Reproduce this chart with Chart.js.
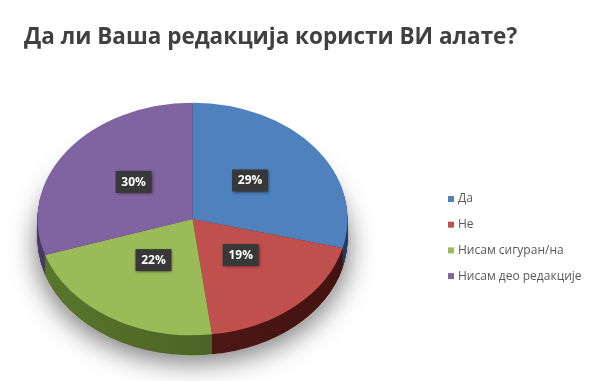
<!DOCTYPE html>
<html><head><meta charset="utf-8">
<script src="https://cdn.jsdelivr.net/npm/chart.js@4"></script>
<style>html,body{margin:0;padding:0;background:#fff;}#wrap{width:615px;height:381px;position:relative;}</style>
</head><body>
<div id="wrap"><canvas id="c" width="615" height="381"></canvas></div>
<script>
const titleText = 'Да ли Ваша редакција користи ВИ алате?';
const categories = ['Да', 'Не', 'Нисам сигуран/на', 'Нисам део редакције'];
const values = [29, 19, 22, 30];
const valueLabels = ['29%', '19%', '22%', '30%'];
const topColors = ['#4F81BD', '#C0504D', '#9BBB59', '#8064A2'];
const sideColors = ['#2f5380', '#5c1b19', '#5a762c', '#4a3862'];

const TILT = 0.75;
const DEPTH = 20;
const FONT = '"Open Sans", sans-serif';

function wedge(ctx, a, dy) {
  ctx.beginPath();
  ctx.moveTo(a.x, a.y + dy);
  ctx.arc(a.x, a.y + dy, a.outerRadius, a.startAngle, a.endAngle);
  ctx.closePath();
}

function shade(hex, f) {
  const n = parseInt(hex.slice(1), 16);
  const r = Math.round(((n >> 16) & 255) * f), g = Math.round(((n >> 8) & 255) * f), b = Math.round((n & 255) * f);
  return 'rgb(' + r + ',' + g + ',' + b + ')';
}

const pie3d = {
  id: 'pie3d',
  beforeDatasetsDraw(chart) {
    const ctx = chart.ctx;
    const arcs = chart.getDatasetMeta(0).data;
    const a0 = arcs[0];
    const cx = a0.x, cy = a0.y, R = a0.outerRadius;
    // soft shadow
    ctx.save();
    ctx.shadowColor = 'rgba(0,0,0,0.5)';
    ctx.shadowBlur = 26;
    ctx.shadowOffsetY = 8;
    ctx.fillStyle = '#b5b5b5';
    ctx.beginPath();
    ctx.ellipse(cx, cy + DEPTH, R + 2, R * TILT, 0, 0, Math.PI * 2);
    ctx.fill();
    ctx.restore();
    // side walls
    ctx.save();
    ctx.translate(0, cy);
    ctx.scale(1, TILT);
    ctx.translate(0, -cy);
    for (let d = DEPTH; d >= 1; d -= 0.5) {
      arcs.forEach((a, i) => {
        const g = ctx.createLinearGradient(cx - R, 0, cx + R, 0);
        g.addColorStop(0, sideColors[i]);
        g.addColorStop(1, shade(sideColors[i], 0.72));
        ctx.fillStyle = g;
        wedge(ctx, a, d / TILT);
        ctx.fill();
      });
    }
    ctx.restore();
    // squash the top surface drawn by Chart.js
    ctx.save();
    ctx.translate(0, cy);
    ctx.scale(1, TILT);
    ctx.translate(0, -cy);
  },
  afterDatasetsDraw(chart) {
    const ctx = chart.ctx;
    ctx.restore();
    const arcs = chart.getDatasetMeta(0).data;
    arcs.forEach((a, i) => {
      const mid = (a.startAngle + a.endAngle) / 2;
      const r = a.outerRadius * 0.47;
      const x = a.x + Math.cos(mid) * r;
      const y = a.y + Math.sin(mid) * r * TILT - 5;
      ctx.save();
      ctx.shadowColor = 'rgba(0,0,0,0.5)';
      ctx.shadowBlur = 3;
      ctx.shadowOffsetX = 1;
      ctx.shadowOffsetY = 1;
      ctx.fillStyle = '#383838';
      ctx.fillRect(x - 18, y - 11, 36, 22);
      ctx.restore();
      ctx.fillStyle = '#ffffff';
      ctx.font = 'bold 12px ' + FONT;
      ctx.textAlign = 'center';
      ctx.textBaseline = 'middle';
      ctx.fillText(valueLabels[i], x, y + 0.5);
    });
  },
  afterDraw(chart) {
    const ctx = chart.ctx;
    ctx.save();
    // title
    ctx.font = 'bold 22.5px ' + FONT;
    ctx.fillStyle = '#404040';
    ctx.textAlign = 'left';
    ctx.textBaseline = 'alphabetic';
    ctx.fillText(titleText, 24, 44);
    // legend
    ctx.font = '12px ' + FONT;
    ctx.textBaseline = 'middle';
    categories.forEach((c, i) => {
      const y = 199 + i * 25.7;
      ctx.fillStyle = topColors[i];
      ctx.fillRect(448, y - 3, 6, 6);
      ctx.fillStyle = '#595959';
      ctx.fillText(c, 458, y);
    });
    ctx.restore();
  }
};

new Chart(document.getElementById('c'), {
  type: 'pie',
  data: {
    labels: categories,
    datasets: [{ data: values, backgroundColor: topColors, borderWidth: 0, hoverOffset: 0 }]
  },
  options: {
    responsive: false,
    animation: false,
    devicePixelRatio: 1,
    layout: { padding: { left: 24, right: 254, top: 64, bottom: 7 } },
    plugins: {
      legend: { display: false },
      tooltip: { enabled: false },
      title: { display: false }
    }
  },
  plugins: [pie3d]
});
</script>
</body></html>
